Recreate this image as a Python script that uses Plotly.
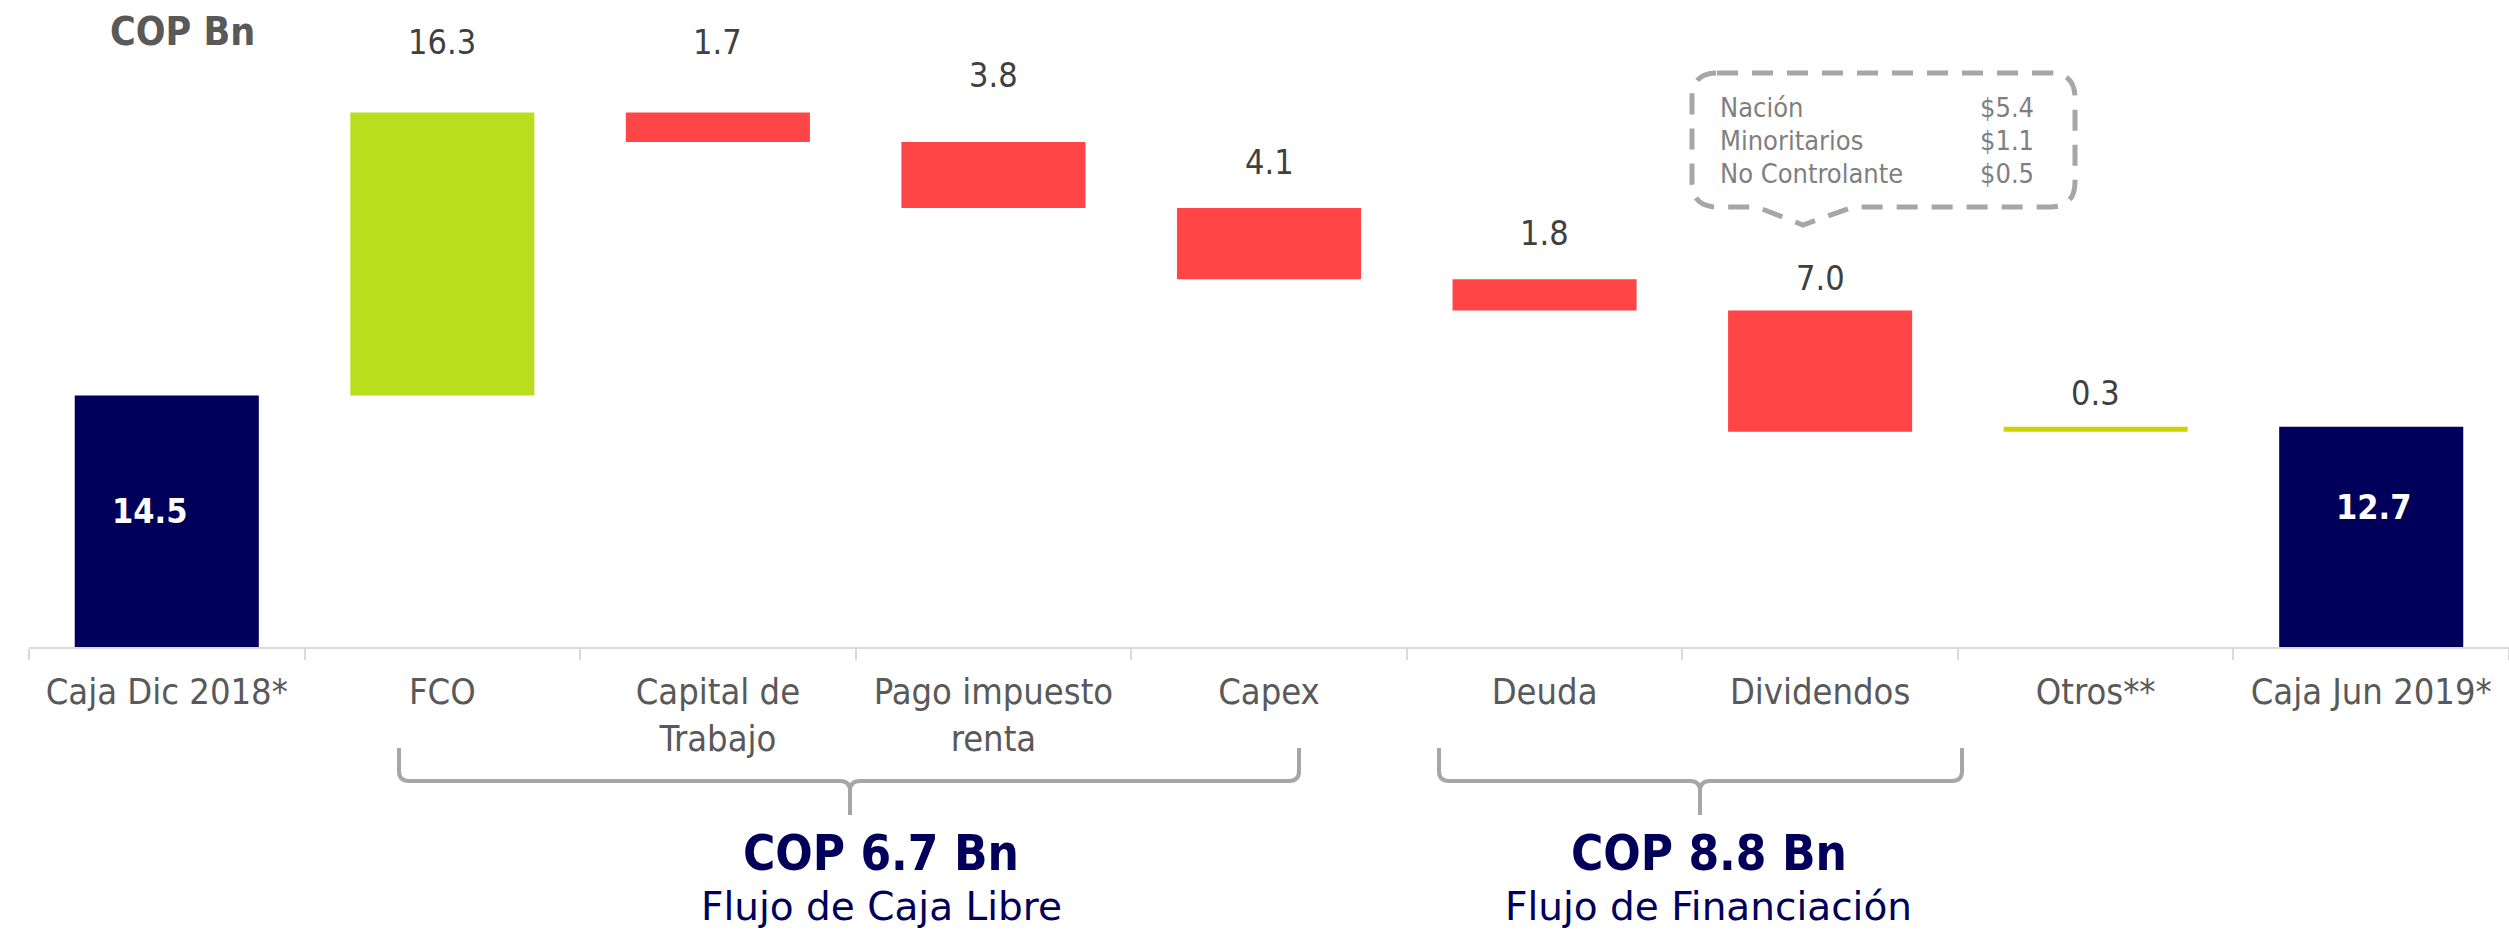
import plotly.graph_objects as go

# waterfall data (COP billions)
categories = ["Caja Dic 2018*", "FCO", "Capital de<br>Trabajo", "Pago impuesto<br>renta",
              "Capex", "Deuda", "Dividendos", "Otros**", "Caja Jun 2019*"]
values = [14.5, 16.3, -1.7, -3.8, -4.1, -1.8, -7.0, 0.3, 12.7]
measures = ["absolute", "relative", "relative", "relative", "relative",
            "relative", "relative", "relative", "total"]

# dividend breakdown shown in the callout
callout_names = ["Nación", "Minoritarios", "No Controlante"]
callout_values = ["$5.4", "$1.1", "$0.5"]

# group summaries under the braces
group_totals = ["COP 6.7 Bn", "COP 8.8 Bn"]
group_names = ["Flujo de Caja Libre", "Flujo de Financiación"]

NAVY = "#00005A"
GREEN = "#B8DE1E"
RED = "#FF4545"
OTROS = "#CDD400"
GREY_TXT = "#595959"
BRACE = "#A6A6A6"
COND = "DejaVu Sans Condensed, DejaVu Sans, sans-serif"
WIDE = "DejaVu Sans, Verdana, sans-serif"

# figure geometry (pixels)
W, H = 2509, 933
L, R, T, B = 29, 0, 0, 286
PX_PER_UNIT = 17.35
plot_w = W - L - R
plot_h = H - T - B


def px(x):
    return (x - L) / plot_w


def py(y):
    return (H - B - y) / plot_h


def note(x, y, text, size, color, family=COND, xanchor="center"):
    # text placed in pixel coordinates of the page
    fig.add_annotation(xref="paper", yref="paper", x=px(x), y=py(y),
                       xanchor=xanchor, yanchor="middle", text=text,
                       showarrow=False,
                       font=dict(family=family, size=size, color=color))


# bases / heights for the floating bars
bases, heights, tops = [], [], []
running = 0.0
for v, m in zip(values, measures):
    if m == "absolute":
        bases.append(0)
        heights.append(v)
        running = v
    elif m == "total":
        bases.append(0)
        heights.append(running)
    else:
        bases.append(running)
        heights.append(v)
        running += v
    tops.append(max(bases[-1], bases[-1] + heights[-1]))

colors = [NAVY, GREEN, RED, RED, RED, RED, RED, OTROS, NAVY]

fig = go.Figure(go.Bar(
    x=categories,
    y=heights,
    base=bases,
    marker_color=colors,
    marker_line_width=0,
    hoverinfo="skip",
))

# value labels above the floating bars
label_shift = [0, 71, 71, 67, 46, 46, 32, 34, 0]
for i, v in enumerate(values):
    if measures[i] == "relative":
        fig.add_annotation(x=categories[i], y=tops[i], yshift=label_shift[i],
                           text=f"{abs(v):.1f}", showarrow=False,
                           xanchor="center", yanchor="middle",
                           font=dict(family=COND, size=34, color="#404040"))

# white labels inside the cash bars
for i, xs, ys in [(0, -17, 10), (8, 2, 30)]:
    fig.add_annotation(x=categories[i], y=heights[i] / 2, xshift=xs, yshift=ys,
                       text=f"<b>{heights[i]:.1f}</b>", showarrow=False,
                       xanchor="center", yanchor="middle",
                       font=dict(family=COND, size=34, color="white"))

# unit label
note(182, 32, "<b>COP Bn</b>", 39, GREY_TXT)

# callout box for dividends
cb = [(1717, 73), (2050, 73), (2075, 73), (2075, 98), (2075, 182), (2075, 207),
      (2050, 207), (1853, 207), (1803, 225), (1757, 207), (1717, 207),
      (1692, 207), (1692, 182), (1692, 98), (1692, 73), (1717, 73)]
cmd = ["M", "L", "Q", "", "L", "Q", "", "L", "L", "L", "L", "Q", "", "L", "Q", ""]
path = ""
for c, (x, y) in zip(cmd, cb):
    path += f"{c}{px(x):.5f},{py(y):.5f} "
fig.add_shape(type="path", xref="paper", yref="paper", path=path + "Z",
              line=dict(color=BRACE, width=5, dash="21px,14px"))
for k, (name, val) in enumerate(zip(callout_names, callout_values)):
    note(1718, 107 + 33.5 * k, name, 27, "#7F7F7F", xanchor="left")
    note(2036, 107 + 33.5 * k, val, 27, "#7F7F7F", xanchor="right")


# curly braces under the category groups
def brace(x0, x1, xm, ytop=748, yline=781, ybot=815, r=10):
    pts = (f"M{px(x0)},{py(ytop)} L{px(x0)},{py(yline - r)} "
           f"Q{px(x0)},{py(yline)} {px(x0 + r)},{py(yline)} "
           f"L{px(xm - r)},{py(yline)} Q{px(xm)},{py(yline)} {px(xm)},{py(yline + r)} "
           f"L{px(xm)},{py(ybot)} M{px(xm)},{py(yline + r)} "
           f"Q{px(xm)},{py(yline)} {px(xm + r)},{py(yline)} "
           f"L{px(x1 - r)},{py(yline)} Q{px(x1)},{py(yline)} {px(x1)},{py(yline - r)} "
           f"L{px(x1)},{py(ytop)}")
    fig.add_shape(type="path", xref="paper", yref="paper", path=pts,
                  line=dict(color=BRACE, width=4))


brace(399, 1299, 850)
brace(1439, 1962, 1700)

for cx, tot, name in zip([881, 1709], group_totals, group_names):
    note(cx, 853, f"<b>{tot}</b>", 49, NAVY)
    note(cx, 906, name, 39, NAVY, family=WIDE)

fig.update_layout(
    width=W, height=H,
    margin=dict(l=L, r=R, t=T, b=B, pad=0),
    paper_bgcolor="white", plot_bgcolor="white",
    bargap=0.332,
    showlegend=False,
    xaxis=dict(showline=True, linecolor="#D9D9D9", linewidth=2,
               ticks="outside", tickson="boundaries", ticklen=11,
               tickcolor="#D9D9D9", tickwidth=2, ticklabelstandoff=12,
               tickfont=dict(family=COND, size=36, color=GREY_TXT),
               showgrid=False, fixedrange=True, automargin=False),
    yaxis=dict(visible=False, range=[0, plot_h / PX_PER_UNIT], fixedrange=True),
)

# drop the page's default body margin so the chart sits at the window origin
fig.write_html("out.html", config={"displayModeBar": False},
               post_script="document.body.style.margin='0';")
